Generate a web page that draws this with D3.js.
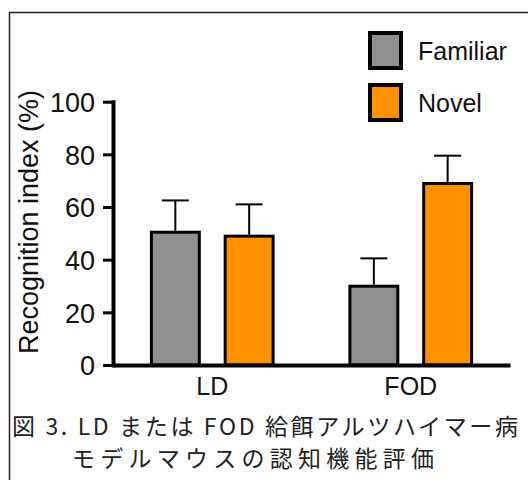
<!DOCTYPE html>
<html>
<head>
<meta charset="utf-8">
<script src="https://cdn.jsdelivr.net/npm/d3@7"></script>
<style>
  body { margin: 0; background: #fff; }
  svg { display: block; }
  .tick text, .lbl { font-family: "Liberation Sans", Arial, sans-serif; fill: #111; }
  .cap { font-family: "Noto Sans CJK JP", sans-serif; fill: #222; }
</style>
</head>
<body>
<div id="chart"></div>
<script>
// data
var groups = ["LD", "FOD"];
var series = ["Familiar", "Novel"];
var familiarVals = [51, 30.5];
var novelVals = [49.5, 69.5];
var familiarErr = [11.5, 10];
var novelErr = [11.5, 10];
var yTicks = [0, 20, 40, 60, 80, 100];
var colors = ["#8f8f8f", "#ff9100"];

var svgWidth = 528;
var svgHeight = 480;

var svg = d3.select("#chart")
  .append("svg")
  .attr("width", svgWidth)
  .attr("height", svgHeight);

// frame around figure
svg.append("path")
  .attr("d", "M9.5,480V12.5H528")
  .attr("fill", "none")
  .attr("stroke", "#222")
  .attr("stroke-width", 1.5);

var x0 = d3.scaleBand()
  .domain(groups)
  .range([113, 510])
  .padding(0);

var x1 = d3.scaleBand()
  .domain(series)
  .range([0, x0.bandwidth()])
  .paddingInner(0.31)
  .paddingOuter(0.5);

var y = d3.scaleLinear()
  .domain([0, 100])
  .range([365, 101.7]);

var rows = [];
groups.forEach(function(g, i) {
  rows.push({ group: g, key: "Familiar", value: familiarVals[i], err: familiarErr[i], color: colors[0] });
  rows.push({ group: g, key: "Novel", value: novelVals[i], err: novelErr[i], color: colors[1] });
});

// error bars first (stem hidden behind bar)
var eb = svg.append("g").selectAll("g").data(rows).enter().append("g");
eb.append("line")
  .attr("x1", d => x0(d.group) + x1(d.key) + x1.bandwidth() / 2)
  .attr("x2", d => x0(d.group) + x1(d.key) + x1.bandwidth() / 2)
  .attr("y1", d => y(d.value))
  .attr("y2", d => y(d.value + d.err))
  .attr("stroke", "#000")
  .attr("stroke-width", 2);
eb.append("line")
  .attr("x1", d => x0(d.group) + x1(d.key) + x1.bandwidth() / 2 - 13.5)
  .attr("x2", d => x0(d.group) + x1(d.key) + x1.bandwidth() / 2 + 13.5)
  .attr("y1", d => y(d.value + d.err))
  .attr("y2", d => y(d.value + d.err))
  .attr("stroke", "#000")
  .attr("stroke-width", 2);

// bars
svg.append("g").selectAll("rect").data(rows).enter().append("rect")
  .attr("x", d => x0(d.group) + x1(d.key) + 1.5)
  .attr("width", x1.bandwidth() - 3)
  .attr("y", d => y(d.value) + 1.5)
  .attr("height", d => y(0) - y(d.value) - 1.5)
  .attr("fill", d => d.color)
  .attr("stroke", "#000")
  .attr("stroke-width", 3);

// y axis
var leftAxis = d3.axisLeft(y)
  .tickValues(yTicks)
  .tickSize(10)
  .tickSizeOuter(0)
  .tickPadding(8);

var ya = svg.append("g")
  .attr("transform", "translate(113,0)")
  .call(leftAxis);
ya.select(".domain").attr("stroke", "#000").attr("stroke-width", 4).attr("stroke-linecap", "square");
ya.selectAll(".tick line").attr("stroke", "#000").attr("stroke-width", 3);
ya.selectAll(".tick text").attr("font-size", 27).attr("dy", "0.36em");

// x axis
var bottomAxis = d3.axisBottom(x0)
  .tickSize(0)
  .tickSizeOuter(0)
  .tickPadding(12);

var xa = svg.append("g")
  .attr("transform", "translate(0,365)")
  .call(bottomAxis);
xa.select(".domain").attr("stroke", "#000").attr("stroke-width", 4);
xa.selectAll(".tick text").attr("font-size", 25);

// y axis title
svg.append("text")
  .attr("class", "lbl")
  .attr("transform", "translate(38,222) rotate(-90)")
  .attr("text-anchor", "middle")
  .attr("font-size", 27)
  .text("Recognition index (%)");

// legend
var legend = svg.append("g").selectAll("g").data(series).enter().append("g")
  .attr("transform", (d, i) => `translate(368,${31 + i * 52})`);
legend.append("rect")
  .attr("x", 2)
  .attr("y", 2)
  .attr("width", 31)
  .attr("height", 35)
  .attr("fill", (d, i) => colors[i])
  .attr("stroke", "#000")
  .attr("stroke-width", 4);
legend.append("text")
  .attr("class", "lbl")
  .attr("x", 50)
  .attr("y", 20)
  .attr("dy", "0.36em")
  .attr("font-size", 25)
  .text(d => d);

// caption
svg.append("text")
  .attr("class", "cap")
  .attr("x", 12)
  .attr("y", 435)
  .attr("font-size", 23)
  .attr("textLength", 506)
  .attr("lengthAdjust", "spacing")
  .text("図 3. LD または FOD 給餌アルツハイマー病");
svg.append("text")
  .attr("class", "cap")
  .attr("x", 72)
  .attr("y", 467)
  .attr("font-size", 23)
  .attr("textLength", 362)
  .attr("lengthAdjust", "spacing")
  .text("モデルマウスの認知機能評価");
</script>
</body>
</html>
